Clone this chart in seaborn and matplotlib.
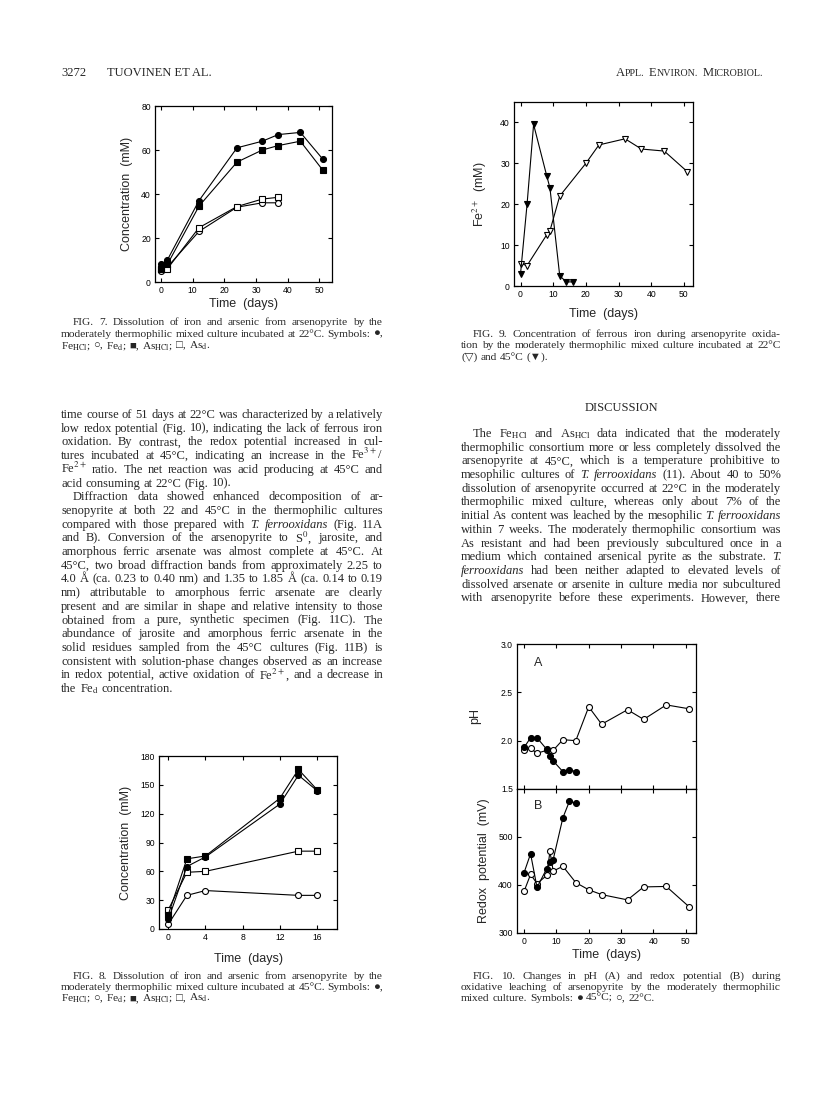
import matplotlib
matplotlib.use('Agg')
import matplotlib.pyplot as plt
import seaborn as sns

sns.set_style('ticks')
plt.rcParams['font.family'] = ['Liberation Sans', 'DejaVu Sans']
plt.rcParams['mathtext.fontset'] = 'stix'
SERIF = ['Liberation Serif', 'DejaVu Sans']
W, H = 816, 1096

# ---- FIG. 7 (22°C): concentration (mM) vs time (days)
f7_days = [0, 2, 12, 24, 32, 37, 44, 51]
f7_fe_hcl = [8, 10, 37, 61, 64, 67, 68, 56]
f7_as_hcl = [6, 8, 34.5, 54.5, 60, 62, 64, 51]
f7_days_d = [0, 2, 12, 24, 32, 37]
f7_fe_d = [5, 6.8, 23, 34, 36, 36]
f7_as_d = [6, 6, 24.7, 34.3, 37.7, 38.5]

# ---- FIG. 8 (45°C)
f8_days = [0, 2, 4, 12, 14, 16]
f8_fe_hcl = [10, 65, 75, 130, 160, 144]
f8_as_hcl = [15, 73, 76, 136, 166, 145]
f8_days_d = [0, 2, 4, 14, 16]
f8_fe_d = [5, 35, 40, 35, 35]
f8_as_d = [20, 59, 60, 81, 81]

# ---- FIG. 9: Fe2+ (mM)
f9_days_45 = [0, 2, 4, 8, 9, 12, 14, 16]
f9_fe2_45 = [3, 20, 39.5, 27, 24, 2.5, 1, 1]
f9_days_22 = [0, 2, 8, 9, 12, 20, 24, 32, 37, 44, 51]
f9_fe2_22 = [5.5, 5, 12.5, 13.5, 22, 30, 34.5, 36, 33.5, 33, 28]

# ---- FIG. 10: pH (A) and redox potential (B)
f10_days_45 = [0, 2, 4, 7, 8, 9, 12, 14, 16]
f10_ph_45 = [1.93, 2.03, 2.03, 1.91, 1.845, 1.79, 1.68, 1.70, 1.68]
f10_days_22a = [0, 2, 4, 7, 9, 12, 16, 20, 24, 32, 37, 44, 51]
f10_ph_22 = [1.90, 1.92, 1.87, 1.90, 1.90, 2.01, 2.00, 2.35, 2.17, 2.32, 2.22, 2.37, 2.33]
f10_eh_45 = [426, 465, 395, 434, 448, 453, 540, 574, 571]
f10_days_22b = [0, 2, 4, 7, 8, 9, 12, 16, 20, 24, 32, 37, 44, 51]
f10_eh_22 = [387, 422, 403, 420, 470, 429, 439, 405, 390, 380, 369, 396, 397, 355]

# ---- page text
left_body = [
    "time course of 51 days at 22°C was characterized by a relatively",
    "low redox potential (Fig. 10), indicating the lack of ferrous iron",
    "oxidation. By contrast, the redox potential increased in cul-",
    "tures incubated at 45°C, indicating an increase in the Fe$^{3+}$/",
    "Fe$^{2+}$ ratio. The net reaction was acid producing at 45°C and",
    "acid consuming at 22°C (Fig. 10).",
    "Diffraction data showed enhanced decomposition of ar-",
    "senopyrite at both 22 and 45°C in the thermophilic cultures",
    "compared with those prepared with _T. _ferrooxidans (Fig. 11A",
    "and B). Conversion of the arsenopyrite to S$^{0}$, jarosite, and",
    "amorphous ferric arsenate was almost complete at 45°C. At",
    "45°C, two broad diffraction bands from approximately 2.25 to",
    "4.0 Å (ca. 0.23 to 0.40 nm) and 1.35 to 1.85 Å (ca. 0.14 to 0.19",
    "nm) attributable to amorphous ferric arsenate are clearly",
    "present and are similar in shape and relative intensity to those",
    "obtained from a pure, synthetic specimen (Fig. 11C). The",
    "abundance of jarosite and amorphous ferric arsenate in the",
    "solid residues sampled from the 45°C cultures (Fig. 11B) is",
    "consistent with solution-phase changes observed as an increase",
    "in redox potential, active oxidation of Fe$^{2+}$, and a decrease in",
    "the Fe$_{\\mathrm{d}}$ concentration.",
]
left_indent = [6]
left_last = [5, 20]

right_body = [
    "The Fe$_{\\mathrm{HCl}}$ and As$_{\\mathrm{HCl}}$ data indicated that the moderately",
    "thermophilic consortium more or less completely dissolved the",
    "arsenopyrite at 45°C, which is a temperature prohibitive to",
    "mesophilic cultures of _T. _ferrooxidans (11). About 40 to 50%",
    "dissolution of arsenopyrite occurred at 22°C in the moderately",
    "thermophilic mixed culture, whereas only about 7% of the",
    "initial As content was leached by the mesophilic _T. _ferrooxidans",
    "within 7 weeks. The moderately thermophilic consortium was",
    "As resistant and had been previously subcultured once in a",
    "medium which contained arsenical pyrite as the substrate. _T.",
    "_ferrooxidans had been neither adapted to elevated levels of",
    "dissolved arsenate or arsenite in culture media nor subcultured",
    "with arsenopyrite before these experiments. However, there",
]

cap7 = ["FIG. 7. Dissolution of iron and arsenic from arsenopyrite by the",
        "moderately thermophilic mixed culture incubated at 22°C. Symbols: ●,",
        "Fe$_{\\mathrm{HCl}}$; ○, Fe$_{\\mathrm{d}}$; ■, As$_{\\mathrm{HCl}}$; □, As$_{\\mathrm{d}}$."]
cap8 = ["FIG. 8. Dissolution of iron and arsenic from arsenopyrite by the",
        "moderately thermophilic mixed culture incubated at 45°C. Symbols: ●,",
        "Fe$_{\\mathrm{HCl}}$; ○, Fe$_{\\mathrm{d}}$; ■, As$_{\\mathrm{HCl}}$; □, As$_{\\mathrm{d}}$."]
cap9 = ["FIG. 9. Concentration of ferrous iron during arsenopyrite oxida-",
        "tion by the moderately thermophilic mixed culture incubated at 22°C",
        "(▽) and 45°C (▼)."]
cap10 = ["FIG. 10. Changes in pH (A) and redox potential (B) during",
         "oxidative leaching of arsenopyrite by the moderately thermophilic",
         "mixed culture. Symbols: ● 45°C; ○, 22°C."]

fig = plt.figure(figsize=(W / 100, H / 100), dpi=100)
fig.patch.set_facecolor('white')
renderer = fig.canvas.get_renderer()


def put_line(x0, x1, y, text, size, justify=True, indent=0):
    arts = []
    for w in text.split(' '):
        style = 'normal'
        if w.startswith('_'):
            w, style = w[1:], 'italic'
        arts.append(fig.text(0, 1 - y / H, w, fontsize=size, family=SERIF,
                             fontstyle=style, va='baseline', ha='left'))
    widths = [t.get_window_extent(renderer).width for t in arts]
    x = x0 + indent
    gap = size * 0.26 * 100 / 72
    if justify and len(arts) > 1:
        gap = (x1 - x - sum(widths)) / (len(arts) - 1)
    for t, w in zip(arts, widths):
        t.set_x(x / W)
        x += w + gap


def put_block(lines, x0, x1, y0, step, size, indents=(0,), last=(), ind=12):
    for i, s in enumerate(lines):
        put_line(x0, x1, y0 + i * step, s, size, justify=i not in last,
                 indent=ind if i in indents else 0)


def smallcaps(x, y, text, big=9, small=7.2):
    for word in text.split(' '):
        t1 = fig.text(x / W, 1 - y / H, word[0], fontsize=big, family=SERIF, va='baseline')
        x += t1.get_window_extent(renderer).width
        t2 = fig.text(x / W, 1 - y / H, word[1:], fontsize=small, family=SERIF, va='baseline')
        x += t2.get_window_extent(renderer).width + 4.5


def axes_px(left, top, right, bottom):
    return fig.add_axes([left / W, 1 - bottom / H, (right - left) / W, (bottom - top) / H])


def style(ax):
    ax.set_facecolor('white')
    ax.tick_params(direction='in', top=True, right=True, length=3, width=0.8,
                   labelsize=6.2, pad=3, colors='black')
    for s in ax.spines.values():
        s.set_linewidth(0.9)
        s.set_color('black')


def series(ax, x, y, marker, filled, ms=4.3):
    sns.lineplot(x=x, y=y, ax=ax, color='black', lw=0.8, marker=marker, markersize=ms,
                 markerfacecolor='black' if filled else 'white', markeredgecolor='black',
                 markeredgewidth=0.8, estimator=None, sort=False)


LBL = 9
CAP = 8.2

# header
fig.text(61 / W, 1 - 76 / H, '3272', fontsize=9, family=SERIF, va='baseline')
fig.text(107 / W, 1 - 76 / H, 'TUOVINEN ET AL.', fontsize=9, family=SERIF, va='baseline')
smallcaps(616, 76, 'APPL. ENVIRON. MICROBIOL.')

# FIG 7
ax7 = axes_px(155, 106, 332, 282)
series(ax7, f7_days_d, f7_fe_d, 'o', False)
series(ax7, f7_days_d, f7_as_d, 's', False, 4)
series(ax7, f7_days, f7_fe_hcl, 'o', True)
series(ax7, f7_days, f7_as_hcl, 's', True, 4)
ax7.set_xlim(-1.9, 54)
ax7.set_ylim(0, 80)
ax7.set_xticks(range(0, 51, 10))
ax7.set_yticks(range(0, 81, 20))
ax7.set_xlabel('Time  (days)', fontsize=LBL, labelpad=2)
ax7.set_ylabel('Concentration  (mM)', fontsize=LBL, labelpad=6)
style(ax7)

# FIG 8
ax8 = axes_px(159, 756, 337, 929)
series(ax8, f8_days_d, f8_fe_d, 'o', False)
series(ax8, f8_days_d, f8_as_d, 's', False, 4)
series(ax8, f8_days, f8_fe_hcl, 'o', True)
series(ax8, f8_days, f8_as_hcl, 's', True, 4)
ax8.set_xlim(-1, 18.15)
ax8.set_ylim(0, 180)
ax8.set_xticks(range(0, 17, 4))
ax8.set_yticks(range(0, 181, 30))
ax8.set_xlabel('Time  (days)', fontsize=LBL, labelpad=8)
ax8.set_ylabel('Concentration  (mM)', fontsize=LBL, labelpad=6)
style(ax8)

# FIG 9
ax9 = axes_px(514, 102, 693, 286)
series(ax9, f9_days_22, f9_fe2_22, 'v', False, 5)
series(ax9, f9_days_45, f9_fe2_45, 'v', True, 5)
ax9.set_xlim(-2, 52.8)
ax9.set_ylim(0, 45)
ax9.set_xticks(range(0, 51, 10))
ax9.set_yticks(range(0, 41, 10))
ax9.set_xlabel('Time  (days)', fontsize=LBL, labelpad=6)
ax9.set_ylabel('Fe$^{2+}$  (mM)', fontsize=LBL, labelpad=8)
style(ax9)

# FIG 10
axA = axes_px(517, 644, 696, 789)
axB = axes_px(517, 789, 696, 933)
series(axA, f10_days_22a, f10_ph_22, 'o', False)
series(axA, f10_days_45, f10_ph_45, 'o', True)
series(axB, f10_days_22b, f10_eh_22, 'o', False)
series(axB, f10_days_45, f10_eh_45, 'o', True)
for ax in (axA, axB):
    ax.set_xlim(-2.2, 53.2)
    ax.set_xticks(range(0, 51, 10))
    style(ax)
axA.set_ylim(1.5, 3.0)
axA.set_yticks([1.5, 2.0, 2.5, 3.0])
axA.set_yticklabels(['1.5', '2.0', '2.5', '3.0'])
axA.tick_params(labelbottom=False)
axA.set_ylabel('pH', fontsize=LBL, labelpad=14)
axA.text(4.5, 2.8, 'A', fontsize=9, va='center', ha='center')
axB.set_ylim(300, 600)
axB.set_yticks([300, 400, 500])
axB.set_xlabel('Time  (days)', fontsize=LBL, labelpad=2)
axB.set_ylabel('Redox  potential  (mV)', fontsize=LBL, labelpad=6)
axB.text(4.5, 565, 'B', fontsize=9, va='center', ha='center')

# captions
put_block(cap7, 61, 383, 325, 11.7, CAP, indents=(0,), last=(2,))
put_block(cap8, 61, 383, 979, 11, CAP, indents=(0,), last=(2,))
put_block(cap9, 461, 781, 337, 11.5, CAP, indents=(0,), last=(2,))
put_block(cap10, 461, 781, 979, 11, CAP, indents=(0,), last=(2,))

# body text
put_block(left_body, 61, 383, 418, 13.7, 9, indents=left_indent, last=left_last)
put_block(right_body, 461, 781, 437, 13.7, 9, indents=(0,), last=())
fig.text(621 / W, 1 - 411 / H, 'DISCUSSION', fontsize=9, family=SERIF,
         va='baseline', ha='center')

fig.savefig('out.png', dpi=100, facecolor='white')
